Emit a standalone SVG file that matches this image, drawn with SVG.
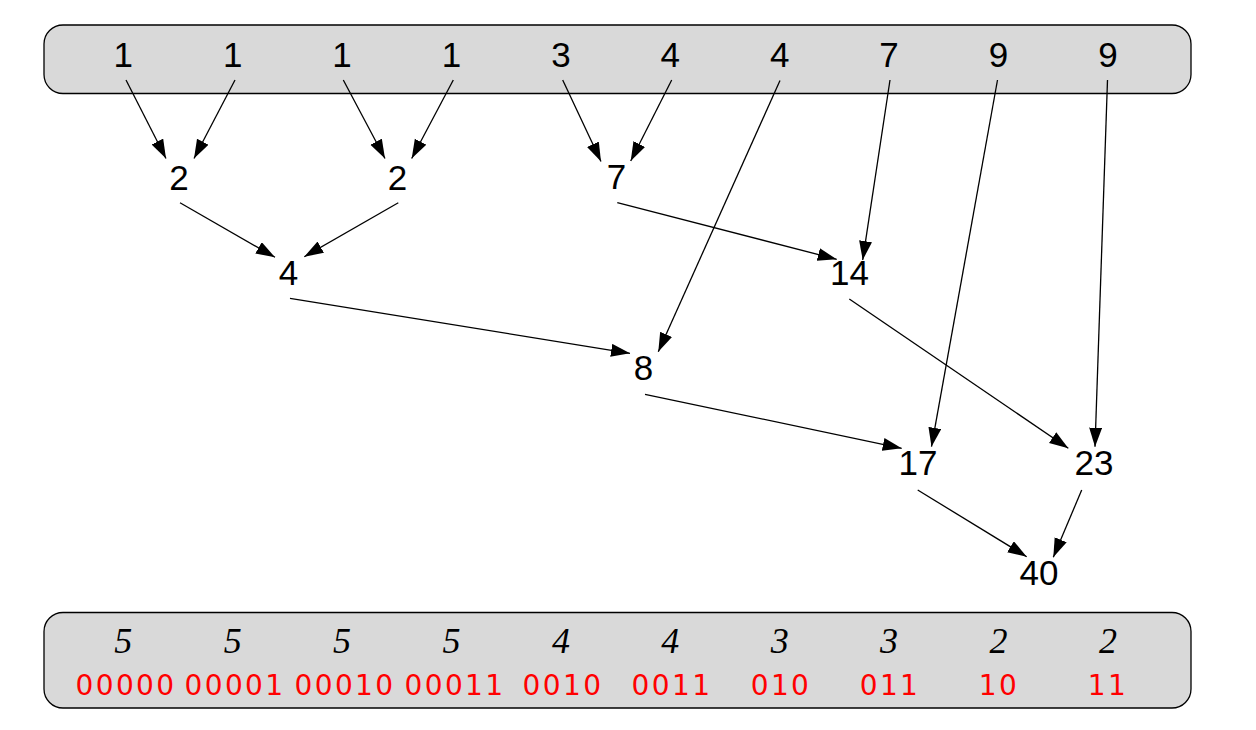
<svg xmlns="http://www.w3.org/2000/svg" width="1256" height="730" viewBox="0 0 1256 730">
<defs>
<marker id="ah" markerUnits="userSpaceOnUse" markerWidth="20" markerHeight="14" refX="19" refY="6.5" orient="auto">
<path d="M0,0 L19,6.5 L0,13 z" fill="#000"/>
</marker>
<style>
.bar{fill:#d9d9d9;stroke:#000;stroke-width:1.3}
.n{font-family:"Liberation Sans",Arial,Helvetica,sans-serif;font-size:35px;fill:#000;text-anchor:middle}
.w{font-family:"Liberation Serif","Times New Roman",serif;font-style:italic;font-size:36px;fill:#000;text-anchor:middle}
.c{font-family:"DejaVu Sans",sans-serif;font-size:28px;fill:#ff0000;text-anchor:middle;letter-spacing:2.4px}
.e line{stroke:#000;stroke-width:1.3;marker-end:url(#ah)}
</style>
</defs>
<rect width="1256" height="730" fill="#fff"/>
<g id="leaves">
<rect class="bar" x="44" y="25" width="1147" height="68.5" rx="19"/>
<text class="n" x="123.3" y="67">1</text>
<text class="n" x="232.7" y="67">1</text>
<text class="n" x="342.1" y="67">1</text>
<text class="n" x="451.5" y="67">1</text>
<text class="n" x="560.9" y="67">3</text>
<text class="n" x="670.3" y="67">4</text>
<text class="n" x="779.7" y="67">4</text>
<text class="n" x="889.1" y="67">7</text>
<text class="n" x="998.5" y="67">9</text>
<text class="n" x="1107.9" y="67">9</text>
</g>
<g id="n2a"><text class="n" x="179" y="190">2</text></g>
<g id="n2b"><text class="n" x="397.5" y="190">2</text></g>
<g id="n7"><text class="n" x="616.5" y="189">7</text></g>
<g id="n4"><text class="n" x="288.5" y="285">4</text></g>
<g id="n14"><text class="n" x="849.5" y="285">14</text></g>
<g id="n8"><text class="n" x="643.5" y="380">8</text></g>
<g id="n17"><text class="n" x="918" y="475">17</text></g>
<g id="n23"><text class="n" x="1094" y="475">23</text></g>
<g id="n40"><text class="n" x="1039" y="585">40</text></g>
<g id="codes">
<rect class="bar" x="44" y="612.5" width="1147" height="95.5" rx="19"/>
<text class="w" x="123.3" y="653">5</text>
<text class="w" x="232.7" y="653">5</text>
<text class="w" x="342.1" y="653">5</text>
<text class="w" x="451.5" y="653">5</text>
<text class="w" x="560.9" y="653">4</text>
<text class="w" x="670.3" y="653">4</text>
<text class="w" x="779.7" y="653">3</text>
<text class="w" x="889.1" y="653">3</text>
<text class="w" x="998.5" y="653">2</text>
<text class="w" x="1107.9" y="653">2</text>
<text class="c" x="126" y="695">00000</text>
<text class="c" x="235" y="695">00001</text>
<text class="c" x="345" y="695">00010</text>
<text class="c" x="455" y="695">00011</text>
<text class="c" x="563" y="695">0010</text>
<text class="c" x="672" y="695">0011</text>
<text class="c" x="781" y="695">010</text>
<text class="c" x="890" y="695">011</text>
<text class="c" x="999" y="695">10</text>
<text class="c" x="1108" y="695">11</text>
</g>
<g id="connectors" class="e">
<line x1="126" y1="80" x2="166" y2="158.5"/>
<line x1="235" y1="80" x2="194" y2="158.5"/>
<line x1="343.3" y1="80" x2="385" y2="158.5"/>
<line x1="453.3" y1="80" x2="411.7" y2="158.5"/>
<line x1="562.7" y1="80" x2="601" y2="161.5"/>
<line x1="671.7" y1="80" x2="630.7" y2="161"/>
<line x1="780" y1="80.5" x2="658.3" y2="351.7"/>
<line x1="890" y1="80" x2="862.7" y2="260"/>
<line x1="997.5" y1="80" x2="931.5" y2="446.7"/>
<line x1="1107.5" y1="80" x2="1095" y2="446.7"/>
<line x1="180" y1="202.7" x2="275" y2="257.3"/>
<line x1="398.3" y1="202.7" x2="304.3" y2="256.7"/>
<line x1="617.3" y1="202.7" x2="836.7" y2="259.3"/>
<line x1="290" y1="298.3" x2="630" y2="353.3"/>
<line x1="849.3" y1="299" x2="1068.3" y2="448.3"/>
<line x1="645" y1="394.3" x2="901.7" y2="448.3"/>
<line x1="917.7" y1="490" x2="1026.7" y2="556.7"/>
<line x1="1081.7" y1="490" x2="1053.3" y2="557.3"/>
</g>
</svg>
